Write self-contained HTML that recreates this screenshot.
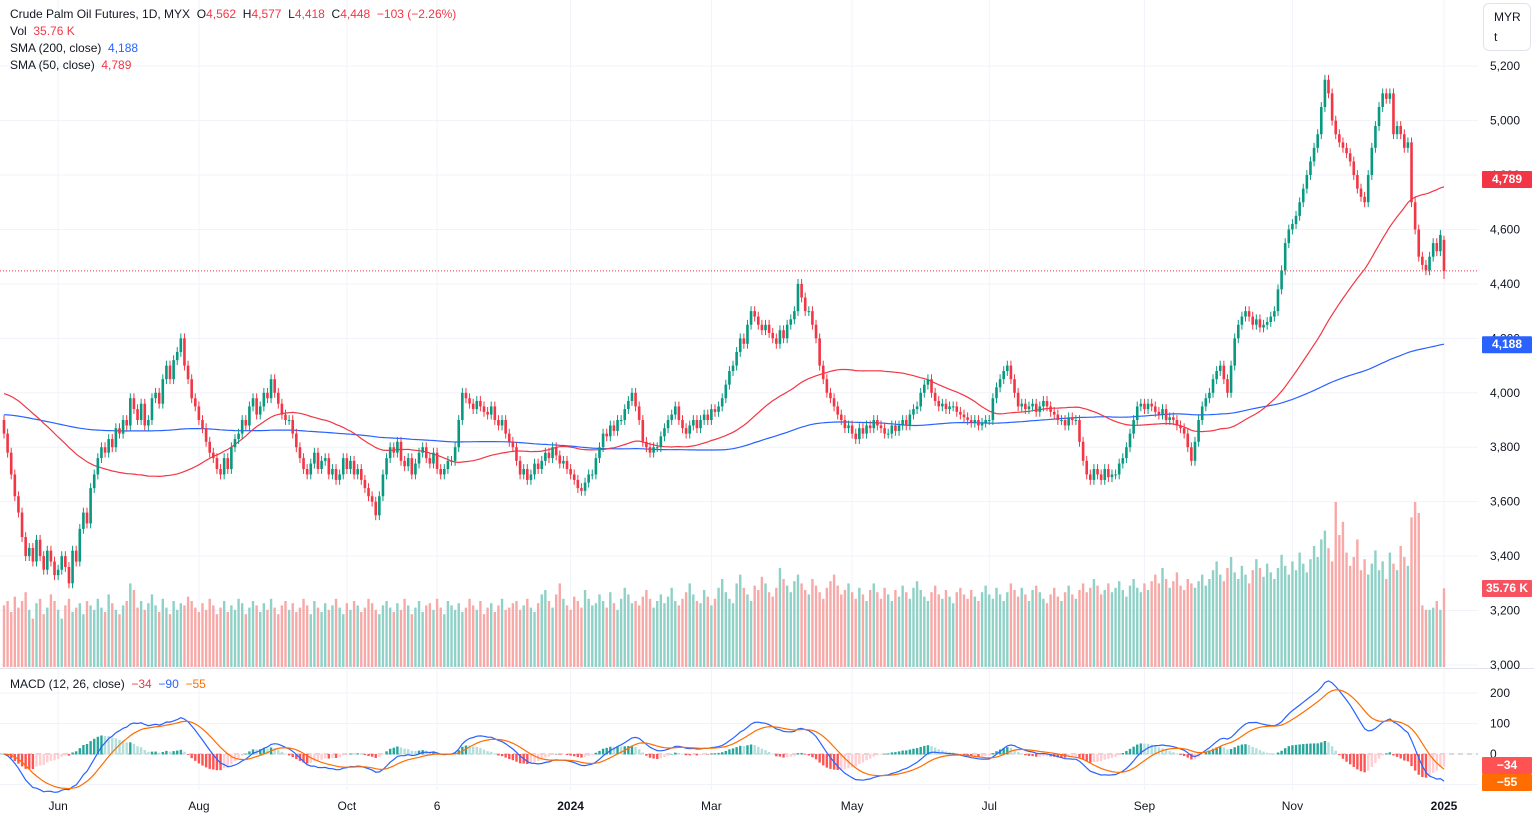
<!DOCTYPE html>
<html><head><meta charset="utf-8"><style>
body{margin:0;background:#fff;font-family:"Liberation Sans",sans-serif;}
#wrap{position:relative;width:1534px;height:820px;overflow:hidden;}
.lg{position:absolute;left:10px;font-size:12px;color:#131722;white-space:nowrap}
.r{color:#f23645}.b{color:#2962ff}.o{color:#ff6d00}
</style></head><body>
<div id="wrap">
<svg id="svg" width="1534" height="820" style="position:absolute;left:0;top:0"></svg>
<div class="lg" style="top:7px">Crude Palm Oil Futures, 1D, MYX&nbsp; O<span class="r">4,562</span>&nbsp; H<span class="r">4,577</span>&nbsp; L<span class="r">4,418</span>&nbsp; C<span class="r">4,448</span>&nbsp; <span class="r">−103 (−2.26%)</span></div>
<div class="lg" style="top:24px">Vol&nbsp; <span class="r">35.76 K</span></div>
<div class="lg" style="top:41px">SMA (200, close)&nbsp; <span class="b">4,188</span></div>
<div class="lg" style="top:58px">SMA (50, close)&nbsp; <span class="r">4,789</span></div>
<div class="lg" style="top:677px">MACD (12, 26, close)&nbsp; <span class="r">−34</span>&nbsp; <span class="b">−90</span>&nbsp; <span class="o">−55</span></div>
<div style="position:absolute;left:1483px;top:3px;width:48px;height:48px;border:1px solid #e0e3eb;border-radius:6px;font-size:12px;color:#131722;line-height:20px;padding:3px 0 0 10px;box-sizing:border-box">MYR<br>t</div>
</div>
<script>
const closes=[3850,3780,3700,3620,3560,3470,3400,3430,3380,3460,3400,3350,3420,3380,3330,3350,
3400,3360,3300,3420,3380,3500,3560,3520,3650,3700,3760,3800,3780,3830,3800,3870,3850,3900,3880,3980,
3940,3900,3960,3880,3900,3980,4000,3960,4050,4100,4050,4120,4150,4200,4100,4050,3980,3950,3900,3870,3820,3780,3760,3720,3700,
3760,3720,3800,3830,3850,3900,3880,3950,3980,3920,3950,4000,3980,4050,4000,3960,3920,3900,3900,3850,3800,3760,3720,3700,
3740,3780,3720,3750,3760,3700,3720,3680,3700,3760,3720,3750,3700,3720,3680,3650,3620,3600,3550,
3620,3700,3760,3800,3780,3820,3750,3730,3760,3700,3740,3780,3800,3760,3740,3780,3720,3700,3720,3750,3750,3800,3900,4000,
3980,3960,3940,3970,3950,3930,3920,3950,3900,3880,3900,3850,3820,3800,3750,3700,
3720,3680,3700,3740,3720,3750,3780,3760,3800,3770,3740,3750,3720,3700,3680,3650,3640,3670,3700,3700,
3760,3800,3850,3840,3880,3860,3900,3900,3940,3970,4000,3950,3900,3820,3800,3780,3800,3800,3840,3870,3900,3920,3950,
3900,3870,3850,3880,3900,3870,3900,3920,3900,3940,3930,3950,3980,4030,4080,4100,4150,4200,4180,4250,4300,
4280,4250,4230,4250,4220,4200,4180,4230,4200,4250,4270,4300,4400,
4350,4300,4300,4250,4200,4100,4050,4000,3980,3950,3920,3900,3870,3880,3850,3830,3870,3850,3880,3870,3900,
3880,3870,3850,3850,3880,3860,3880,3900,3880,3920,3940,3950,4000,4030,4050,
4000,3970,3950,3960,3940,3950,3950,3930,3920,3910,3900,3890,3900,3880,3890,3900,3900,3980,4020,4050,4080,4100,
4050,4000,3950,3960,3940,3950,3960,3930,3950,3970,3950,3930,3920,3900,3900,3880,3910,3900,3900,3820,3750,3700,
3680,3720,3700,3680,3720,3690,3700,3700,3740,3760,3800,3850,3900,3950,
3960,3940,3960,3950,3930,3920,3940,3900,3910,3900,3880,3870,3850,3800,3750,3820,3900,3950,3980,4000,4050,4080,4100,4050,4000,4100,4200,
4250,4280,4300,4280,4250,4270,4240,4250,4260,4280,4300,4380,4450,4550,4600,4620,4650,4700,4750,4800,4850,4900,4950,5050,5150,
5100,5000,4950,4920,4900,4880,4850,4800,4750,4720,4700,4800,4900,4980,5050,5100,5080,5100,4950,4980,4950,4900,4920,4700,4600,4500,4470,4450,4500,4550,4520,4580,4448];
const volumesK=[28,30,25,32,27,30,34,26,22,29,31,24,27,33,30,26,22,28,31,25,27,29,24,30,28,26,31,27,25,33,
29,26,24,28,30,38,35,27,30,26,29,33,28,25,31,27,24,30,26,29,28,32,30,27,25,29,26,31,28,24,
27,30,25,28,26,31,29,24,27,30,28,25,29,26,31,27,24,28,30,26,29,25,27,31,28,24,30,27,25,29,
26,28,31,27,24,29,26,30,28,25,27,31,29,26,24,28,30,27,25,29,26,31,28,24,27,30,25,28,29,26,
31,27,24,30,28,26,29,25,27,31,28,26,30,24,27,29,25,28,31,26,27,29,30,26,28,31,27,25,29,33,
35,30,27,33,38,31,28,26,32,30,27,35,31,28,29,33,30,27,34,29,26,31,36,33,29,30,28,32,35,31,
27,30,33,29,32,36,30,28,31,34,38,33,30,29,35,32,28,31,36,40,34,31,29,38,42,36,33,30,37,35,
41,38,34,32,36,45,40,37,34,39,42,38,35,33,40,37,34,31,36,39,42,37,33,35,38,34,31,36,33,30,
35,38,34,31,36,33,30,35,32,37,34,31,36,39,35,32,30,34,37,33,31,35,32,29,34,36,33,31,35,32,
30,34,37,33,31,36,33,30,34,38,35,32,36,33,30,35,37,34,31,29,33,36,32,30,34,37,33,31,35,38,
34,36,40,37,33,35,38,34,36,39,35,32,37,40,36,34,38,35,39,42,38,45,40,36,39,43,37,35,40,38,
36,39,42,37,40,
44,48,42,39,45,50,43,40,46,42,38,44,49,45,41,47,43,40,45,51,46,42,48,44,52,47,43,49,55,50,
58,62,54,48,75,60,66,52,46,50,58,44,49,42,47,53,44,48,40,52,47,44,55,50,46,68,75,70,28,26,26,27,30,26,35.76];
const months=["Jun","Aug","Oct","6","2024","Mar","May","Jul","Sep","Nov","2025"];
const monthBar=[15,54,95,120,157,196,235,273,316,357,399];
const priceTicks=[3000,3200,3400,3600,3800,4000,4200,4400,4600,4800,5000,5200];
const macdTicks=[0,100,200];
const smaSeed50=4000, smaSeed200=3920;

const svg=document.getElementById('svg');const NS='http://www.w3.org/2000/svg';
function mk(t,a,parent){const e=document.createElementNS(NS,t);for(const k in a)e.setAttribute(k,a[k]);(parent||svg).appendChild(e);return e;}
const X0=4,X1=1444,N=closes.length,dx=(X1-X0)/(N-1);
const xS=i=>X0+i*dx;
const yP=p=>665-(p-3000)*0.2722;
const yV=v=>667-v*2.2;
const yM=m=>754-m*0.305;
const grid=mk('g',{});
priceTicks.forEach(p=>{mk('line',{x1:0,x2:1478,y1:yP(p),y2:yP(p),stroke:'#f0f3fa'},grid);});
macdTicks.concat([-100]).forEach(m=>{mk('line',{x1:0,x2:1478,y1:yM(m),y2:yM(m),stroke:'#f0f3fa'},grid);});
monthBar.forEach(i=>{mk('line',{x1:xS(i),x2:xS(i),y1:0,y2:790,stroke:'#f0f3fa'},grid);});
mk('line',{x1:0,x2:1534,y1:668.5,y2:668.5,stroke:'#e0e3eb'});
mk('line',{x1:0,x2:1478,y1:754,y2:754,stroke:'#b2b5be','stroke-dasharray':'5,4'});
const opens=closes.map((c,i)=>i==0?3900:closes[i-1]);opens[N-1]=4562;
const vg=mk('g',{});
const vOff=N-volumesK.length;
volumesK.forEach((v,j)=>{const i=j+vOff;const up=closes[i]>=opens[i];const r=mk('rect',{x:xS(i)-1.2,y:yV(v),width:2.4,height:667-yV(v),fill:up?'#8fd1c6':'#f7a9a7'},vg);
});
function sma(n,seed){return closes.map((c,i)=>{let k=Math.min(i+1,n),s=0;for(let j=i-k+1;j<=i;j++)s+=closes[j];return (s+seed*(n-k))/n;});}
const s50=sma(50,smaSeed50),s200=sma(200,smaSeed200);
function line(arr,yf,col,name){const p=mk('path',{d:arr.map((v,i)=>(i?'L':'M')+xS(i).toFixed(1)+','+yf(v).toFixed(1)).join(''),fill:'none',stroke:col,'stroke-width':1.2});}
line(s200,yP,'#2962ff','sma200-line');line(s50,yP,'#f23645','sma50-line');
const cg=mk('g',{});
closes.forEach((c,i)=>{const o=opens[i],up=c>=o,col=up?'#089981':'#f23645';
const hi=i==N-1?4577:Math.max(o,c)+18, lo=i==N-1?4418:Math.min(o,c)-18;
mk('line',{x1:xS(i),x2:xS(i),y1:yP(hi),y2:yP(lo),stroke:col,'stroke-width':1},cg);
const t=yP(Math.max(o,c)),b=yP(Math.min(o,c));
const r=mk('rect',{x:xS(i)-1.3,y:t,width:2.6,height:Math.max(1,b-t),fill:col},cg);
});
mk('line',{x1:0,x2:1478,y1:yP(4448),y2:yP(4448),stroke:'#f23645','stroke-dasharray':'1,2'});
function ema(a,n){const k=2/(n+1);let e=a[0];return a.map(v=>e=v*k+e*(1-k));}
const e12=ema(closes,12),e26=ema(closes,26);const macd=e12.map((v,i)=>v-e26[i]);const sig=ema(macd,9);const hist=macd.map((v,i)=>v-sig[i]);
const hg=mk('g',{});
hist.forEach((h,i)=>{const prev=i?hist[i-1]:0;let col=h>=0?(h>=prev?'#26a69a':'#b2dfdb'):(h<prev?'#ff5252':'#ffcdd2');
const y=Math.min(yM(h),754);const r=mk('rect',{x:xS(i)-1.2,y:y,width:2.4,height:Math.abs(yM(h)-754)+0.5,fill:col},hg);
});
line(macd,yM,'#2962ff','macd-line');line(sig,yM,'#ff6d00','signal-line');
function txt(x,y,s,a){const t=mk('text',Object.assign({x:x,y:y,'font-size':12,fill:'#131722','font-family':'Liberation Sans, sans-serif'},a||{}));t.textContent=s;return t;}
priceTicks.forEach(p=>{const t=txt(1490,yP(p)+4,p.toLocaleString('en-US'));});
macdTicks.forEach(m=>{const t=txt(1490,yM(m)+4,String(m));});
months.forEach((m,k)=>{const bold=(m=='2024'||m=='2025');const t=txt(xS(monthBar[k]),810,m,{'text-anchor':'middle','font-weight':bold?'bold':'normal'});});
function badge(y,s,col,name){const g=mk('g',{});
mk('rect',{x:1482,y:y-8,width:50,height:17,fill:col,rx:1},g);const t=txt(1507,y+4,s,{fill:'#fff','text-anchor':'middle','font-weight':'bold'});g.appendChild(t);}
badge(179,'4,789','#f23645','sma50-price-label');
badge(yP(s200[N-1]),'4,188','#2962ff','sma200-price-label');
badge(588,'35.76 K','#f7525f','volume-value-label');
badge(765,'−34','#ff5252','macd-hist-label');
badge(782,'−55','#ff6d00','signal-value-label');
</script></body></html>
